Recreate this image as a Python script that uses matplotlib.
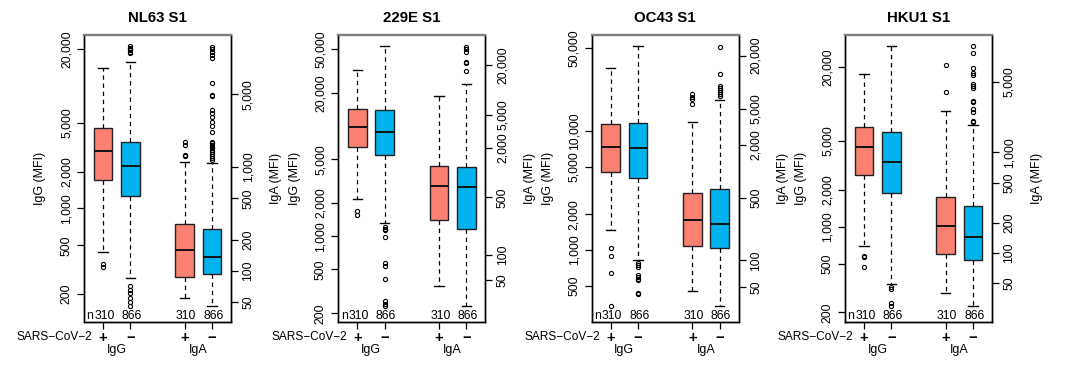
import matplotlib
matplotlib.use("Agg")
import matplotlib.pyplot as plt
from matplotlib.ticker import NullLocator, FixedLocator, FixedFormatter
from matplotlib.transforms import blended_transform_factory

plt.rcParams['font.family'] = ['Liberation Sans', 'DejaVu Sans']

# ---------------- data ----------------
titles = ["NL63 S1", "229E S1", "OC43 S1", "HKU1 S1"]
groups = ["+", "\u2212"]
n_counts = [310, 866, 310, 866]

# box stats: [whisker low, Q1, median, Q3, whisker high]
nl63_igg_pos = [443, 1698, 2965, 4520, 14000]
nl63_igg_pos_out = [334, 349]
nl63_igg_neg = [271, 1256, 2210, 3515, 15660]
nl63_igg_neg_out = [21300, 20700, 20200, 19600, 19000, 18550, 232, 215, 202, 186, 173, 159]
nl63_iga_pos = [54.6, 87.5, 159, 283, 1110]
nl63_iga_pos_out = [1726, 1617, 1303, 1276]
nl63_iga_neg = [46, 93.5, 136, 252, 1091]
nl63_iga_neg_out = [14350, 13740, 12770, 11940, 11090, 6380, 4925, 4815, 3535, 3283,
                    3047, 2728, 2477, 2184, 1750, 1689, 1627, 1567, 1512, 1457,
                    1393, 1333, 1276, 1220, 1167]

e229_igg_pos = [2190, 6490, 9800, 14280, 32200]
e229_igg_pos_out = [1683, 1558]
e229_igg_neg = [1310, 5420, 8770, 14060, 52900]
e229_igg_neg_out = [1220, 1170, 1140, 985, 576, 541, 406, 258, 241, 233]
e229_iga_pos = [42.2, 264, 692, 1188, 8430]
e229_iga_pos_out = []
e229_iga_neg = [24.2, 208, 673, 1155, 11780]
e229_iga_neg_out = [33300, 31300, 28700, 21900, 21000, 16900]

oc43_igg_pos = [1486, 4550, 7430, 11460, 33900]
oc43_igg_pos_out = [1036, 893, 646, 339]
oc43_igg_neg = [826, 4070, 7240, 11830, 52300]
oc43_igg_neg_out = [780, 750, 726, 618, 594, 571, 555, 439, 428]
oc43_iga_pos = [45.2, 146, 281, 566, 3610]
oc43_iga_pos_out = [7330, 6890, 6490, 5660]
oc43_iga_neg = [30.6, 136, 258, 637, 6320]
oc43_iga_neg_out = [25100, 12390, 9080, 8620, 8190, 7780, 7390, 7010]

hku1_igg_pos = [695, 2640, 4500, 6550, 17630]
hku1_igg_pos_out = [579, 562, 466]
hku1_igg_neg = [342, 1884, 3350, 5960, 29900]
hku1_igg_neg_out = [320, 308, 240, 225]
hku1_iga_pos = [40.3, 97, 185, 361, 2560]
hku1_iga_pos_out = [7330, 3930]
hku1_iga_neg = [29.8, 85, 143, 292, 1860]
hku1_iga_neg_out = [11300, 9570, 6890, 6060, 5820, 4740, 4530, 4300, 3220, 3130,
                    2660, 2520, 2050, 1980]

panel_data = [
    (nl63_igg_pos, nl63_igg_pos_out, nl63_igg_neg, nl63_igg_neg_out,
     nl63_iga_pos, nl63_iga_pos_out, nl63_iga_neg, nl63_iga_neg_out),
    (e229_igg_pos, e229_igg_pos_out, e229_igg_neg, e229_igg_neg_out,
     e229_iga_pos, e229_iga_pos_out, e229_iga_neg, e229_iga_neg_out),
    (oc43_igg_pos, oc43_igg_pos_out, oc43_igg_neg, oc43_igg_neg_out,
     oc43_iga_pos, oc43_iga_pos_out, oc43_iga_neg, oc43_iga_neg_out),
    (hku1_igg_pos, hku1_igg_pos_out, hku1_igg_neg, hku1_igg_neg_out,
     hku1_iga_pos, hku1_iga_pos_out, hku1_iga_neg, hku1_iga_neg_out),
]

igg_ticks = [[200, 500, 1000, 2000, 5000, 20000],
             [200, 500, 1000, 2000, 5000, 20000, 50000],
             [500, 1000, 2000, 5000, 10000, 50000],
             [200, 500, 1000, 2000, 5000, 20000]]
iga_ticks = [[50, 100, 200, 500, 1000, 5000],
             [50, 100, 500, 2000, 5000, 20000],
             [50, 100, 500, 2000, 5000, 20000],
             [50, 100, 200, 500, 1000, 5000]]

# ---------------- layout / style ----------------
igg_lims = [(118, 26200), (167, 67000), (248, 64700), (167, 36700)]
iga_lims = [(32.3, 18570), (15.5, 46100), (20.3, 34000), (20.7, 14500)]
lefts_px = [84, 338.3, 591.7, 845]
W, H = 1072, 366
ax_w, ax_top, ax_bot = 147, 35, 322
colors = ["#FA8072", "#00B2EE"]
positions_igg = [1, 2]
positions_iga = [4, 5]
box_w = 0.69

fig = plt.figure(figsize=(W / 100, H / 100), dpi=100)


def stats(s, out):
    return dict(whislo=s[0], q1=s[1], med=s[2], q3=s[3], whishi=s[4], fliers=out)


def draw(ax, st_list, pos):
    bp = ax.bxp(st_list, positions=pos, widths=box_w, capwidths=box_w * 0.5,
                patch_artist=True, manage_ticks=False,
                boxprops=dict(edgecolor="#222222", linewidth=1.0),
                whiskerprops=dict(color="black", linewidth=0.9, linestyle=(0, (3.5, 3))),
                capprops=dict(color="black", linewidth=1.0),
                medianprops=dict(color="#111111", linewidth=1.4),
                flierprops=dict(marker="o", markersize=3.0, markerfacecolor="none",
                                markeredgecolor="black", markeredgewidth=0.8))
    for patch, c in zip(bp["boxes"], colors):
        patch.set_facecolor(c)


def fmt(v):
    return f"{v:,}"


for i in range(4):
    d = panel_data[i]
    ax = fig.add_axes([lefts_px[i] / W, (H - ax_bot) / H, ax_w / W, (ax_bot - ax_top) / H])
    ax.set_yscale("log")
    ax.set_ylim(*igg_lims[i])
    ax.set_xlim(0.3, 5.7)
    ax2 = ax.twinx()
    ax2.set_yscale("log")
    ax2.set_ylim(*iga_lims[i])

    draw(ax, [stats(d[0], d[1]), stats(d[2], d[3])], positions_igg)
    draw(ax2, [stats(d[4], d[5]), stats(d[6], d[7])], positions_iga)

    for a, ticks in ((ax, igg_ticks[i]), (ax2, iga_ticks[i])):
        a.yaxis.set_major_locator(FixedLocator(ticks))
        a.yaxis.set_major_formatter(FixedFormatter([fmt(t) for t in ticks]))
        a.yaxis.set_minor_locator(NullLocator())
        a.tick_params(axis="y", length=5, width=0.9, pad=3.2, labelsize=8.8, colors="black")
    for lab in ax.get_yticklabels():
        lab.set_rotation(90)
        lab.set_va("center")
        lab.set_ha("right")
    for lab in ax2.get_yticklabels():
        lab.set_rotation(90)
        lab.set_va("center")
        lab.set_ha("left")

    ax.set_xticks([1, 2, 4, 5])
    ax.set_xticklabels(groups + groups, fontsize=10.5, fontweight="bold")
    ax.tick_params(axis="x", length=5, width=0.9, pad=1.2)

    for a in (ax, ax2):
        for sp in ("left", "right", "bottom"):
            a.spines[sp].set_color("black")
            a.spines[sp].set_linewidth(1.0)
        a.spines["top"].set_color("#808080")
        a.spines["top"].set_linewidth(1.6)

    ax.set_ylabel("IgG (MFI)", fontsize=9)
    ax.yaxis.set_label_coords(-0.257, 0.5)
    ax2.set_ylabel("IgA (MFI)", fontsize=9, rotation=90)
    ax2.yaxis.set_label_coords(1.262, 0.5)

    ax.set_title(titles[i], fontsize=10.8, fontweight="bold", pad=9)

    # n counts inside the bottom of the panel
    tr = blended_transform_factory(ax.transData, ax.transAxes)
    ax.text(0.018, 0.012, "n", transform=ax.transAxes, fontsize=8.8, ha="left", va="baseline")
    for p, n in zip([1, 2, 4, 5], n_counts):
        ax.text(p + 0.05, 0.012, str(n), transform=tr, fontsize=8.8, ha="center", va="baseline")

    # labels below the axis
    ax.text(0.62, -0.052, "SARS\u2212CoV\u22122", transform=tr, fontsize=8.6,
            ha="right", va="center")
    ax.text(1.5, -0.097, "IgG", transform=tr, fontsize=9, ha="center", va="center")
    ax.text(4.5, -0.097, "IgA", transform=tr, fontsize=9, ha="center", va="center")

fig.savefig("out.png", dpi=100)
